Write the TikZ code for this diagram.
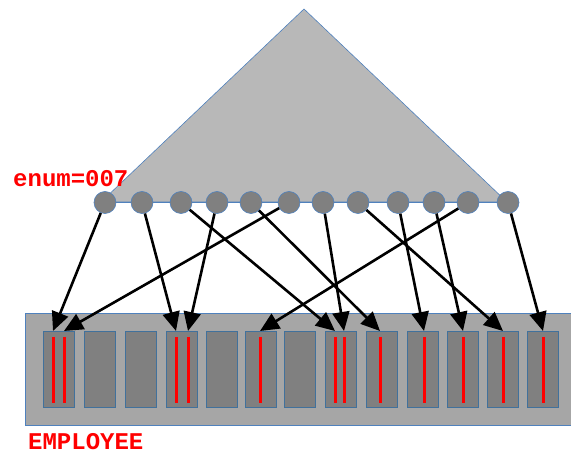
\documentclass[tikz,border=0pt]{standalone}
\usepackage{fontspec}
\newfontfamily\codefont{Liberation Mono}
\usetikzlibrary{arrows.meta}
\definecolor{trifill}{RGB}{184,184,184}
\definecolor{edgeblue}{RGB}{79,129,189}
\definecolor{darkblue}{RGB}{65,113,156}
\definecolor{dotgray}{RGB}{128,128,128}
\definecolor{tablegray}{RGB}{166,166,166}
\tikzset{
  dot/.style={circle,fill=dotgray,draw=edgeblue,line width=0.6pt,minimum size=22pt,inner sep=0pt},
  slot/.style={rectangle,fill=dotgray,draw=darkblue,line width=0.8pt,minimum width=31pt,minimum height=76pt,inner sep=0pt},
  redline/.style={draw=red,line width=3pt},
  ptr/.style={draw=black,line width=2.6pt,-{Triangle[length=19pt,width=17pt]},shorten >=0pt},
  lbl/.style={text=red,font=\codefont\bfseries\fontsize{24}{26}\selectfont,inner sep=0pt,anchor=base west}
}
\begin{document}
\begin{tikzpicture}[x=1pt,y=-1pt]
\useasboundingbox (0,0) rectangle (571,454);
% triangle
\draw[fill=trifill,draw=edgeblue,line width=0.6pt] (304,9) -- (101,202) -- (507,202) -- cycle;
% base line
\draw[edgeblue,line width=1pt] (105,202.5) -- (508,202.5);
% circles
\foreach \i/\x in {1/105,2/142,3/181,4/217,5/251,6/289,7/323,8/358,9/398,10/434,11/468,12/508}
  \node[dot] (c\i) at (\x,202.5) {};
% table
\draw[fill=tablegray,draw=edgeblue,line width=0.6pt] (25,313) rectangle (580,425);
\foreach \i/\x in {1/43,2/84,3/125,4/166,5/206,6/245,7/284,8/325,9/366,10/407,11/447,12/487,13/527}
  \node[slot,anchor=north west] (r\i) at (\x,331) {};
% red lines
\foreach \x in {53,64,176,188,260,335,344,380,424,463,503,543}
  \draw[redline] (\x,337) -- (\x,403);
% targets
\coordinate (t1a) at (53,331);
\coordinate (t1b) at (64,331);
\coordinate (t4a) at (176,331);
\coordinate (t4b) at (188,331);
\coordinate (t6) at (260,331);
\coordinate (t8a) at (335,331);
\coordinate (t8b) at (344,331);
\coordinate (t9) at (380,331);
\coordinate (t10) at (424,331);
\coordinate (t11) at (463,331);
\coordinate (t12) at (503,331);
\coordinate (t13) at (543,331);
% arrows
\draw[ptr] (c1) -- (t1a);
\draw[ptr] (c2) -- (t4a);
\draw[ptr] (c3) -- (t8a);
\draw[ptr] (c4) -- (t4b);
\draw[ptr] (c5) -- (t9);
\draw[ptr] (c6) -- (t1b);
\draw[ptr] (c7) -- (t8b);
\draw[ptr] (c8) -- (t12);
\draw[ptr] (c9) -- (t10);
\draw[ptr] (c10) -- (t11);
\draw[ptr] (c11) -- (t6);
\draw[ptr] (c12) -- (t13);
% labels
\node[lbl] (enum) at (13,187) {enum=007};
\node[lbl] (emp) at (28,450) {EMPLOYEE};
\end{tikzpicture}
\end{document}
